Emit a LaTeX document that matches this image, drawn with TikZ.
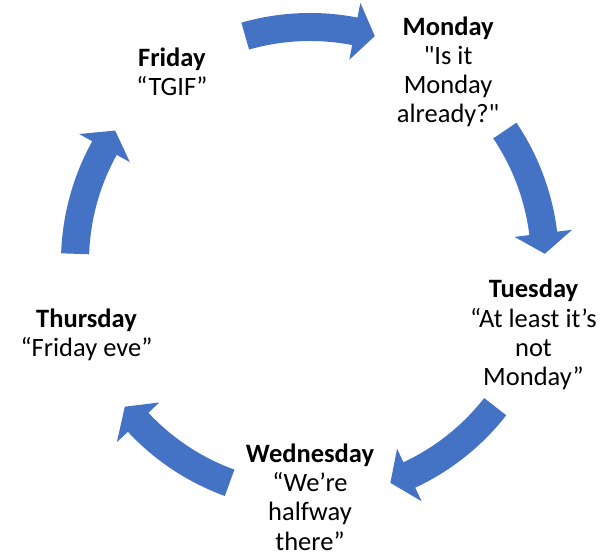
\documentclass[tikz,border=0pt]{standalone}
\usepackage{fontspec}
\setmainfont{Carlito}[Ligatures=TeXOff]
\definecolor{cycleblue}{HTML}{4472C4}
\tikzstyle{day} = [align=center, inner sep=0pt,
font=\fontsize{26.5bp}{29.3bp}\selectfont, text=black]
% one curved arrow of the cycle, centred on angle #1
\newcommand{\cyclearrow}[1]{%
  \fill[cycleblue] (#1+16:249) arc[start angle=#1+16, end angle=#1-11, radius=249]
    -- (#1-11:264) -- (#1-16:235) -- (#1-11:206) -- (#1-11:221)
    arc[start angle=#1-11, end angle=#1+16, radius=221] -- cycle;}

\begin{document}
\begin{tikzpicture}[x=1bp, y=1bp]
                \useasboundingbox (0,0) rectangle (607,558);
                \begin{scope}[shift={(310,296)}]
                \node (monday) [day] at (54:235) {\textbf{Monday}\\"Is it\\Monday\\already?"};
                \node (tuesday) [day] at (-18:235) {\textbf{Tuesday}\\“At least it’s\\not\\Monday”};
                \node (wednesday) [day] at (-90:235) {\textbf{Wednesday}\\“We’re\\halfway\\there”};
                \node (thursday) [day] at (198:235) {\textbf{Thursday}\\“Friday eve”};
                \node (friday) [day] at (126:235) {\textbf{Friday}\\“TGIF”};

                \cyclearrow{90}
                \cyclearrow{18}
                \cyclearrow{-54}
                \cyclearrow{-126}
                \cyclearrow{162}
                \end{scope}
\end{tikzpicture}
\end{document}
